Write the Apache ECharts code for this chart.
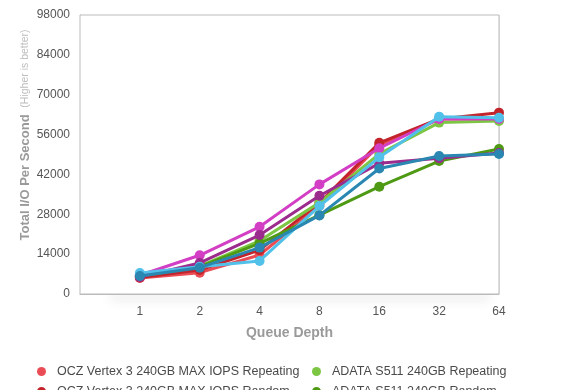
<!DOCTYPE html>
<html><head><meta charset="utf-8">
<script src="https://cdn.jsdelivr.net/npm/echarts@6/dist/echarts.min.js"></script>
<style>html,body{margin:0;padding:0;background:#fff}#c{width:580px;height:390px}</style>
</head><body><div id="c"></div>
<script>
const categories = ['', '1', '2', '4', '8', '16', '32', '64'];
const yTicks = [0, 14000, 28000, 42000, 56000, 70000, 84000, 98000];
const names = [
  'OCZ Vertex 3 240GB MAX IOPS Repeating',
  'OCZ Vertex 3 240GB MAX IOPS Random',
  'ADATA S511 240GB Repeating',
  'ADATA S511 240GB Random',
  'Corsair Force GT 240GB Repeating',
  'Corsair Force GT 240GB Random',
  'OCZ Vertex 3 240GB Repeating',
  'OCZ Vertex 3 240GB Random'
];
const colors = ['#ea4c55', '#c3242b', '#7cc644', '#4f9a15', '#d23ec4', '#9b2b8d', '#52c1ea', '#2a87b1'];
const ocz_max_rep = [null, 5600, 7500, 13700, 31000, 52300, 61500, 61500];
const ocz_max_rnd = [null, 5800, 8400, 15400, 32000, 53100, 61500, 63700];
const adata_rep   = [null, 6500, 9800, 18700, 32100, 49200, 60200, 60800];
const adata_rnd   = [null, 6200, 9600, 17800, 27700, 37700, 46700, 50900];
const s5_rep      = [null, 6600, 13600, 23600, 38500, 51200, 61500, 61500];
const s6_rnd      = [null, 6000, 10900, 20700, 34500, 45900, 47700, 49500];
const s7_rep      = [null, 7400, 9600, 11600, 30900, 48000, 62300, 61900];
const s8_rnd      = [null, 6300, 9250, 16300, 27600, 44100, 48500, 49200];
const seriesData = [ocz_max_rep, ocz_max_rnd, adata_rep, adata_rnd, s5_rep, s6_rnd, s7_rep, s8_rnd];

const chart = echarts.init(document.getElementById('c'));
const font = 'Liberation Sans, Arial, Helvetica, sans-serif';
function legendItem(left, top, name) {
  return { orient: 'horizontal', left: left, top: top, icon: 'circle', itemWidth: 9, itemHeight: 9,
    data: [name], textStyle: { color: '#4a4a4a', fontSize: 12.5, padding: [0, 0, 0, 6] } };
}
chart.setOption({
  animation: false,
  textStyle: { fontFamily: font },
  color: colors,
  grid: { left: 80, right: 81, top: 15, bottom: 96, show: true, backgroundColor: '#fff', borderColor: '#bbb', borderWidth: 1, z: 1 },
  graphic: { elements: [
    { type: 'rect', z: -5, shape: { x: 110, y: 286, width: 380, height: 6 },
      style: { fill: '#fff', shadowColor: 'rgba(0,0,0,0.10)', shadowBlur: 12, shadowOffsetY: 8 } },
    { type: 'text', x: 25, y: 135, rotation: Math.PI / 2,
      style: { text: '{a|Total I/O Per Second}  {b|(Higher is better)}', align: 'center', verticalAlign: 'middle',
        rich: { a: { fontSize: 13, fontWeight: 'bold', fill: '#9a9a9a', fontFamily: font },
                b: { fontSize: 10.5, fill: '#bdbdbd', fontFamily: font } } } }
  ] },
  xAxis: {
    type: 'category', data: categories, boundaryGap: false,
    name: 'Queue Depth', nameLocation: 'middle', nameGap: 32,
    nameTextStyle: { fontSize: 14, fontWeight: 'bold', color: '#9a9a9a' },
    axisLine: { lineStyle: { color: '#bbb' } }, axisTick: { show: false },
    axisLabel: { color: '#555', fontSize: 12, margin: 12 },
    splitLine: { show: true, lineStyle: { color: '#e8e8e8' } }
  },
  yAxis: {
    type: 'value', min: yTicks[0], max: yTicks[yTicks.length - 1], interval: yTicks[1] - yTicks[0],
    axisLine: { show: true, lineStyle: { color: '#bbb' } }, axisTick: { show: false },
    axisLabel: { color: '#555', fontSize: 12, margin: 10, formatter: v => String(v) },
    splitLine: { lineStyle: { color: '#e8e8e8' } }
  },
  legend: [
    legendItem(32, 360, names[0]),
    legendItem(307, 360, names[2]),
    legendItem(32, 380, names[1]),
    legendItem(307, 380, names[3])
  ],
  series: names.map((n, i) => ({
    name: n, type: 'line', data: seriesData[i], symbol: 'circle', symbolSize: 10,
    lineStyle: { width: 3 }, connectNulls: false, z: 2 + i
  }))
});
</script></body></html>
